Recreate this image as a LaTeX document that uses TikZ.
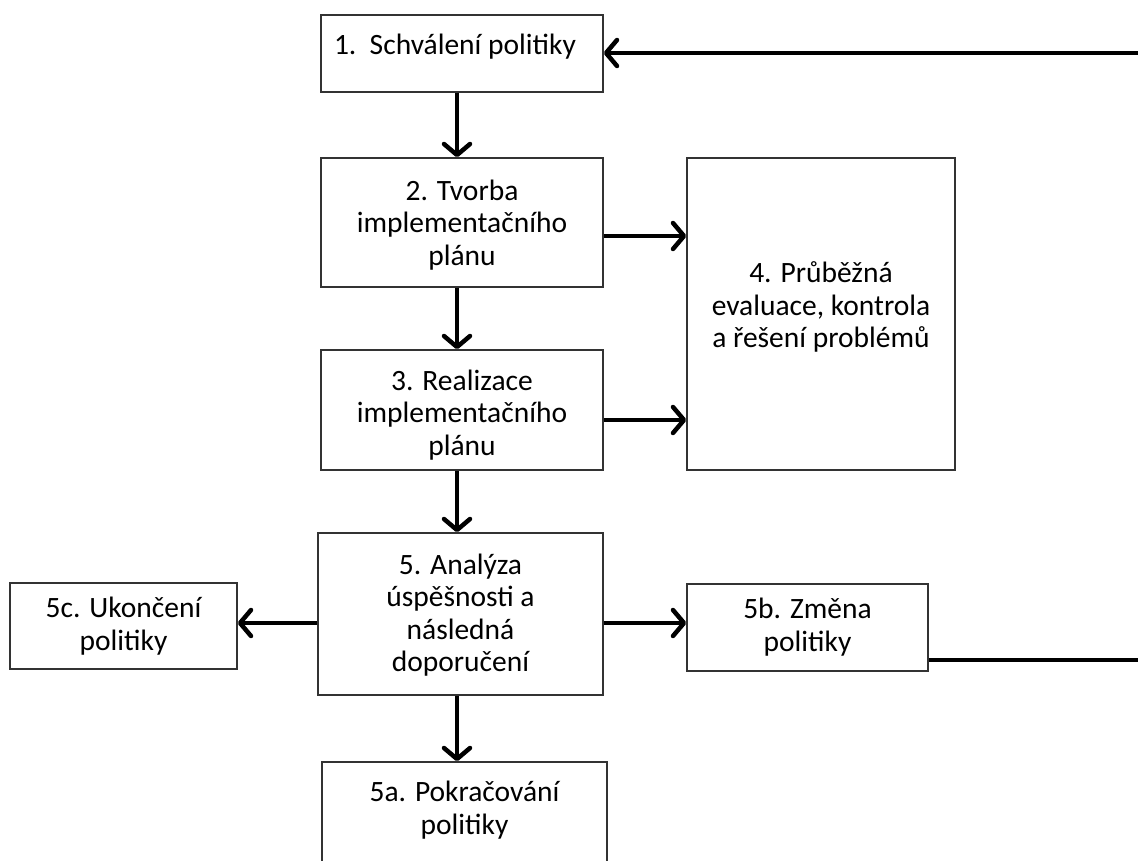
\documentclass[tikz,border=0pt]{standalone}
\usepackage{fontspec}
\setmainfont{Carlito}
\usetikzlibrary{arrows.meta}
\tikzset{
  box/.style={draw=black!80, line width=1.5pt, inner sep=0pt},
  lbl/.style={align=center, inner sep=0pt, font=\fontsize{29.5}{32.5}\selectfont},
  arr/.style={line width=4.5pt, -{Straight Barb[length=11pt,width=26pt,round]}},
  ln/.style={line width=4.5pt}
}
\begin{document}
\begin{tikzpicture}[x=1pt,y=-1pt]
\useasboundingbox (0,0) rectangle (1138,861);
\clip (0,0) rectangle (1138,861);
% boxes
\node[box, minimum width=282pt, minimum height=77pt] (n1) at (462,53.5) {};
\node[box, minimum width=282pt, minimum height=129pt] (n2) at (462,222.5) {};
\node[box, minimum width=268pt, minimum height=312pt] (n4) at (821,314) {};
\node[box, minimum width=282pt, minimum height=120pt] (n3) at (462,410) {};
\node[box, minimum width=285pt, minimum height=162pt] (n5) at (460.5,614) {};
\node[box, minimum width=227pt, minimum height=86pt] (n5c) at (123.5,626) {};
\node[box, minimum width=241pt, minimum height=87pt] (n5b) at (807.5,627.5) {};
\node[box, minimum width=285pt, minimum height=140pt] (n5a) at (464.5,832) {};
% texts
\node[lbl] (t1) at (455,47) {1.\ \ Schválení politiky};
\node[lbl] (t2) at (462,225) {2. Tvorba\\implementačního\\plánu};
\node[lbl] (t4) at (821,307) {4. Průběžná\\evaluace, kontrola\\a řešení problémů};
\node[lbl] (t3) at (462,415) {3. Realizace\\implementačního\\plánu};
\node[lbl] (t5) at (460.5,615) {5. Analýza\\úspěšnosti a\\následná\\doporučení};
\node[lbl] (t5c) at (123.5,626) {5c. Ukončení\\politiky};
\node[lbl] (t5b) at (807.5,627) {5b. Změna\\politiky};
\node[lbl] (t5a) at (464.5,810) {5a. Pokračování\\politiky};
% edge coordinates
\coordinate (e1) at (1140,53);
\coordinate (e2) at (1140,660);
% connectors
\draw[arr] ([xshift=-5pt]n1.south) -- ([xshift=-5pt]n2.north);
\draw[arr] ([xshift=-5pt]n2.south) -- ([xshift=-5pt]n3.north);
\draw[arr] ([xshift=-5pt]n3.south) -- ([xshift=-3.5pt]n5.north);
\draw[arr] ([xshift=-3.5pt]n5.south) -- ([xshift=-7.5pt]n5a.north);
\draw[arr] (n2.east |- 0,236) -- (n4.west |- 0,236);
\draw[arr] (n3.east |- 0,420) -- (n4.west |- 0,420);
\draw[arr] (n5.east |- 0,623) -- (n5b.west |- 0,623);
\draw[arr] (n5.west |- 0,623) -- (n5c.east |- 0,623);
\draw[ln] (n5b.east |- e2) -- (e2);
\draw[arr] (e1) -- (n1.east |- e1);
\end{tikzpicture}
\end{document}
